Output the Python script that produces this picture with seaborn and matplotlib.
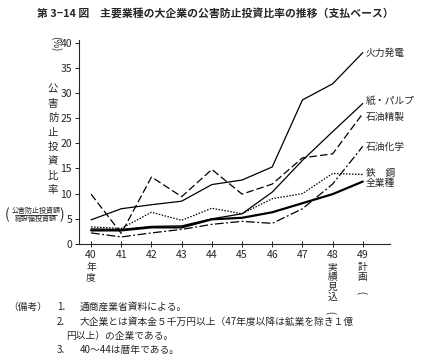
import numpy as np
import pandas as pd
import matplotlib
matplotlib.use('Agg')
import matplotlib.pyplot as plt
import seaborn as sns

sns.set_style('ticks')
plt.rcParams['font.family'] = ['Noto Sans CJK JP', 'DejaVu Sans']

years = [40, 41, 42, 43, 44, 45, 46, 47, 48, 49]
kyoku = [4.8, 7.0, 7.8, 8.5, 11.8, 12.7, 15.3, 28.6, 31.8, 38.0]   # 火力発電
kami = [3.0, 2.9, 3.5, 3.6, 5.0, 6.0, 10.3, 16.6, 22.3, 27.9]      # 紙・パルプ
seisei = [9.9, 2.1, 13.3, 9.4, 14.8, 9.9, 11.9, 17.1, 17.9, 25.9]  # 石油精製
kagaku = [2.2, 1.4, 2.2, 2.9, 3.9, 4.5, 4.1, 7.0, 11.9, 19.4]      # 石油化学
tekko = [3.4, 3.1, 6.3, 4.7, 7.1, 6.0, 9.0, 10.0, 14.0, 13.8]      # 鉄鋼
zen = [2.7, 2.7, 3.3, 3.3, 4.9, 5.2, 6.3, 8.1, 9.9, 12.4]          # 全業種

series = {
    '火力発電': kyoku,
    '紙・パルプ': kami,
    '石油精製': seisei,
    '石油化学': kagaku,
    '鉄　鋼': tekko,
    '全業種': zen,
}
styles = {
    '火力発電': dict(lw=0.9, dashes=''),
    '紙・パルプ': dict(lw=0.9, dashes=''),
    '石油精製': dict(lw=0.9, dashes=(6, 2.5)),
    '石油化学': dict(lw=0.9, dashes=(7, 2, 1.5, 2)),
    '鉄　鋼': dict(lw=0.9, dashes=(1.2, 1.2)),
    '全業種': dict(lw=1.6, dashes=''),
}
label_y = {'火力発電': 38.0, '紙・パルプ': 28.3, '石油精製': 25.2,
           '石油化学': 19.2, '鉄　鋼': 14.1, '全業種': 12.2}

fig = plt.figure(figsize=(4.3, 3.62), dpi=100)
ax = fig.add_axes([79 / 430, 118 / 362, 311 / 430, 204 / 362])

for name, vals in series.items():
    st = styles[name]
    df = pd.DataFrame({'year': years, 'v': vals})
    sns.lineplot(data=df, x='year', y='v', ax=ax, color='black',
                 lw=st['lw'], legend=False)
    ln = ax.lines[-1]
    if st['dashes']:
        ln.set_dashes(st['dashes'])
    ax.text(years[-1] + 0.1, label_y[name], name, fontsize=7, va='center', ha='left')

ax.set_xlim(39.6, 49.9)
ax.set_ylim(0, 40.5)
ax.set_yticks(range(0, 41, 5))
ax.set_xticks(years)
ax.set_xticklabels([str(y) for y in years])
ax.tick_params(axis='both', labelsize=7.5, length=3, width=0.7, direction='out', pad=2)
ax.tick_params(axis='x', direction='inout', length=4)
ax.set_xlabel('')
ax.set_ylabel('')
sns.despine(ax=ax)
for s in ['left', 'bottom']:
    ax.spines[s].set_linewidth(0.8)

# extra x labels under ticks
ax.text(40, -3.6, '年\n度', fontsize=7, ha='center', va='top', linespacing=1.0)
ax.text(48, -3.6, '実\n績\n見\n込', fontsize=7, ha='center', va='top', linespacing=1.0)
ax.text(49, -3.6, '計\n画', fontsize=7, ha='center', va='top', linespacing=1.0)
ax.text(49, -9.2, ')', fontsize=7, ha='center', va='top', rotation=90)
ax.text(48, -13.2, ')', fontsize=7, ha='center', va='top', rotation=90)

# y-axis label
fig.text(53 / 430, 1 - 140 / 362, '公\n害\n防\n止\n投\n資\n比\n率', fontsize=7.5,
         ha='center', va='center', linespacing=1.55)
fig.text(56 / 430, 1 - 44 / 362, '(%)', fontsize=7, ha='center', va='center', rotation=-90)
fig.text(36 / 430, 1 - 211 / 362, '公害防止投資額', fontsize=5, ha='center', va='center')
fig.text(36 / 430, 1 - 219 / 362, '総設備投資額', fontsize=5, ha='center', va='center')
fig.add_artist(plt.Line2D([15 / 430, 57 / 430], [1 - 215 / 362, 1 - 215 / 362],
                          color='black', lw=0.5))
fig.text(5 / 430, 1 - 215 / 362, '(', fontsize=10, ha='left', va='center')
fig.text(59 / 430, 1 - 215 / 362, ')', fontsize=10, ha='left', va='center')

# title
fig.text(215 / 430, 1 - 13 / 362,
         '第 3−14 図　主要業種の大企業の公害防止投資比率の推移（支払ベース）',
         fontsize=7.8, fontweight='bold', ha='center', va='center')

# notes
notes_y = [307, 322, 336, 350]
fig.text(8 / 430, 1 - notes_y[0] / 362, '（備考）', fontsize=7, va='center')
fig.text(57 / 430, 1 - notes_y[0] / 362, '1.', fontsize=7, va='center')
fig.text(80 / 430, 1 - notes_y[0] / 362, '通商産業省資料による。', fontsize=7, va='center')
fig.text(57 / 430, 1 - notes_y[1] / 362, '2.', fontsize=7, va='center')
fig.text(80 / 430, 1 - notes_y[1] / 362,
         '大企業とは資本金５千万円以上（47年度以降は鉱業を除き１億', fontsize=7, va='center')
fig.text(66 / 430, 1 - notes_y[2] / 362, '円以上）の企業である。', fontsize=7, va='center')
fig.text(57 / 430, 1 - notes_y[3] / 362, '3.', fontsize=7, va='center')
fig.text(80 / 430, 1 - notes_y[3] / 362, '40～44は暦年である。', fontsize=7, va='center')

fig.savefig('out.png', dpi=100)
